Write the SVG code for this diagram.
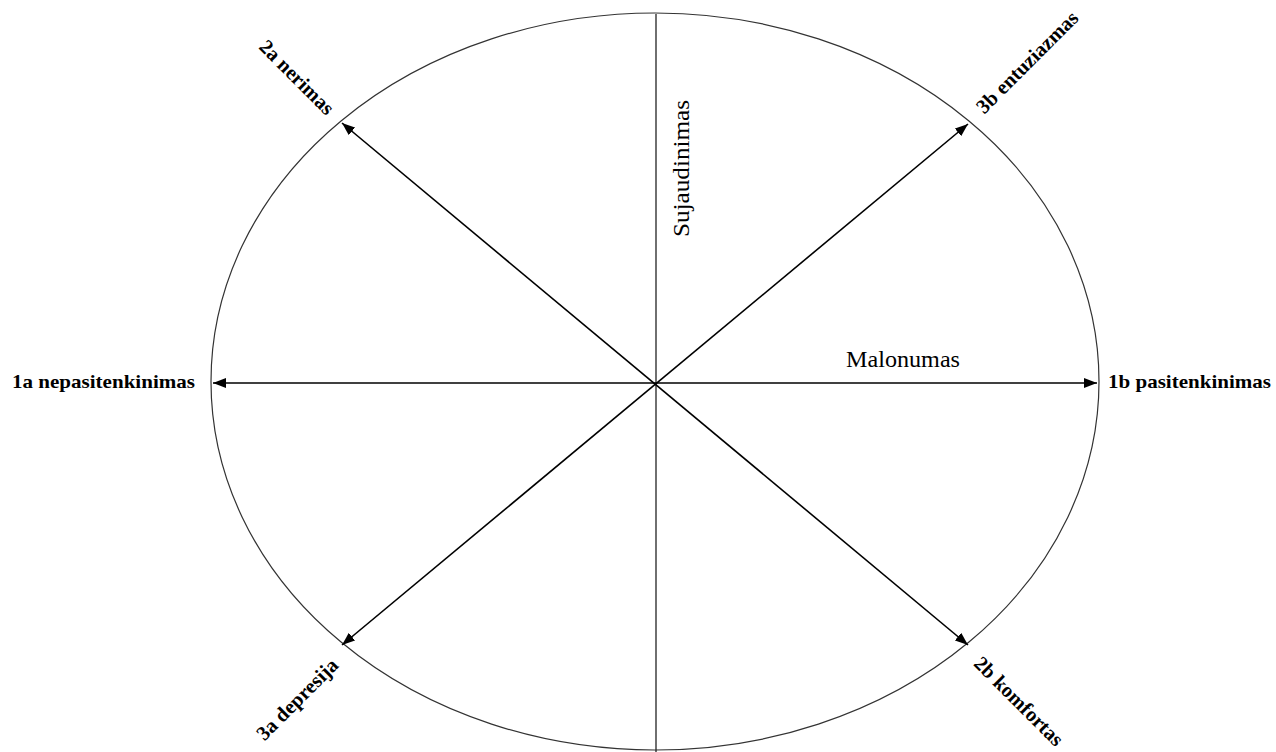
<svg xmlns="http://www.w3.org/2000/svg" width="1276" height="752" viewBox="0 0 1276 752">
<style>
.lbl{font-family:"Liberation Serif","Times New Roman",serif;font-weight:bold;font-size:19px;fill:#000}
.rl{font-size:20.5px}
.axis{font-family:"Liberation Serif","Times New Roman",serif;font-size:23px;fill:#000}
.arr{stroke:#000;stroke-width:1.6;fill:none;marker-start:url(#ah);marker-end:url(#ah)}
</style>
<defs>
<marker id="ah" markerUnits="userSpaceOnUse" markerWidth="14" markerHeight="10" refX="13" refY="5" orient="auto-start-reverse">
<path d="M0,0 L13,5 L0,10 z" fill="#000"/>
</marker>
</defs>
<rect width="1276" height="752" fill="#fff"/>
<g id="circle">
<ellipse cx="655" cy="381.5" rx="444" ry="368.5" fill="none" stroke="#333" stroke-width="1.2"/>
</g>
<g id="connectors">
<line x1="656" y1="14" x2="656" y2="752" stroke="#222" stroke-width="1.3"/>
<line class="arr" x1="213" y1="383" x2="1097" y2="383"/>
<line class="arr" x1="342" y1="123" x2="968" y2="645"/>
<line class="arr" x1="342" y1="645" x2="968" y2="124"/>
</g>
<g id="n-1a"><text class="lbl" x="12" y="388" textLength="183" lengthAdjust="spacingAndGlyphs">1a nepasitenkinimas</text></g>
<g id="n-1b"><text class="lbl" x="1108" y="388" textLength="163" lengthAdjust="spacingAndGlyphs">1b pasitenkinimas</text></g>
<g id="n-2a"><text class="lbl rl" text-anchor="middle" transform="translate(292,82) rotate(45)">2a nerimas</text></g>
<g id="n-3b"><text class="lbl rl" text-anchor="middle" transform="translate(1032,67) rotate(-45)">3b entuziazmas</text></g>
<g id="n-3a"><text class="lbl rl" text-anchor="middle" transform="translate(302,704) rotate(-45)">3a depresija</text></g>
<g id="n-2b"><text class="lbl rl" text-anchor="middle" transform="translate(1014,706) rotate(45)">2b komfortas</text></g>
<g id="axis-x"><text class="axis" x="846" y="367" textLength="114" lengthAdjust="spacingAndGlyphs">Malonumas</text></g>
<g id="axis-y"><text class="axis" text-anchor="middle" textLength="137" lengthAdjust="spacingAndGlyphs" transform="translate(689,168.5) rotate(-90)">Sujaudinimas</text></g>
</svg>
